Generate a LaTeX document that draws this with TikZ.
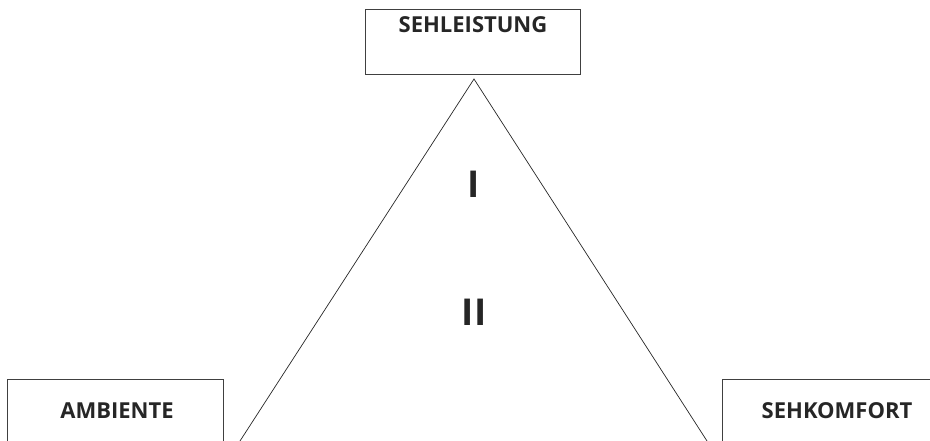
\documentclass[tikz,border=0pt]{standalone}
\usepackage{fontspec}
\setmainfont{Open Sans}
\begin{document}
\begin{tikzpicture}[x=1pt,y=-1pt,
  boxnode/.style={draw=black!75,line width=0.9pt,rectangle,inner sep=0pt},
  lbl/.style={font=\fontsize{22}{24}\selectfont\bfseries,text=black!85,inner sep=0pt,anchor=center},
  numeral/.style={font=\fontsize{37}{40}\selectfont\bfseries,text=black!85,inner sep=0pt,anchor=center},
  edge/.style={draw=black!85,line width=0.7pt}]
\useasboundingbox (0,0) rectangle (930,441);
\clip (0,0) rectangle (930,441);
\node[boxnode,minimum width=215pt,minimum height=65pt] (top) at (472.5,41.5) {};
\node[boxnode,minimum width=216pt,minimum height=80pt] (left) at (115,419) {};
\node[boxnode,minimum width=230pt,minimum height=80pt] (right) at (837,419) {};
\node[lbl] (toptext) at (473,25) {SEHLEISTUNG};
\node[lbl] (lefttext) at (117,411) {AMBIENTE};
\node[lbl] (righttext) at (837,411) {SEHKOMFORT};
\node[numeral] (one) at (474,184) {I};
\node[numeral] (two) at (474,312) {II};
\coordinate (apex) at (474,79);
\coordinate (bl) at (240,441);
\coordinate (br) at (707,441);
\draw[edge] (bl) -- (apex) -- (br);
\end{tikzpicture}
\end{document}
